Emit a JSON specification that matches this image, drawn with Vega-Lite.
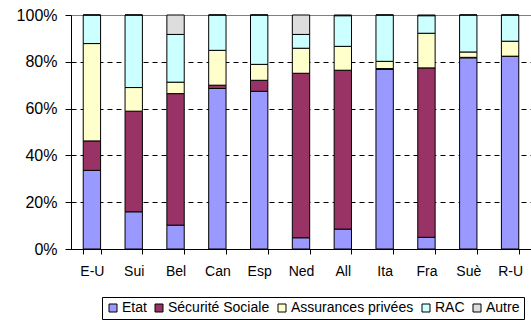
{
  "$schema": "https://vega.github.io/schema/vega-lite/v6.json",
  "width": 460,
  "height": 234,
  "autosize": {"type": "none"},
  "padding": {"left": 71, "top": 15, "right": 0, "bottom": 71},
  "background": "white",
  "config": {"font": "Liberation Sans", "view": {"stroke": "#808080", "strokeWidth": 1}},
  "data": {"values": [
    {"pays": "E-U", "cat": "Etat", "v": 33.6}, {"pays": "E-U", "cat": "Sécurité Sociale", "v": 12.6}, {"pays": "E-U", "cat": "Assurances privées", "v": 41.6}, {"pays": "E-U", "cat": "RAC", "v": 12.2}, {"pays": "E-U", "cat": "Autre", "v": 0},
    {"pays": "Sui", "cat": "Etat", "v": 15.9}, {"pays": "Sui", "cat": "Sécurité Sociale", "v": 43.0}, {"pays": "Sui", "cat": "Assurances privées", "v": 10.1}, {"pays": "Sui", "cat": "RAC", "v": 31.0}, {"pays": "Sui", "cat": "Autre", "v": 0},
    {"pays": "Bel", "cat": "Etat", "v": 10.2}, {"pays": "Bel", "cat": "Sécurité Sociale", "v": 56.2}, {"pays": "Bel", "cat": "Assurances privées", "v": 4.9}, {"pays": "Bel", "cat": "RAC", "v": 20.4}, {"pays": "Bel", "cat": "Autre", "v": 8.3},
    {"pays": "Can", "cat": "Etat", "v": 68.6}, {"pays": "Can", "cat": "Sécurité Sociale", "v": 1.4}, {"pays": "Can", "cat": "Assurances privées", "v": 14.9}, {"pays": "Can", "cat": "RAC", "v": 15.1}, {"pays": "Can", "cat": "Autre", "v": 0},
    {"pays": "Esp", "cat": "Etat", "v": 67.4}, {"pays": "Esp", "cat": "Sécurité Sociale", "v": 4.7}, {"pays": "Esp", "cat": "Assurances privées", "v": 6.8}, {"pays": "Esp", "cat": "RAC", "v": 21.1}, {"pays": "Esp", "cat": "Autre", "v": 0},
    {"pays": "Ned", "cat": "Etat", "v": 4.8}, {"pays": "Ned", "cat": "Sécurité Sociale", "v": 70.3}, {"pays": "Ned", "cat": "Assurances privées", "v": 10.7}, {"pays": "Ned", "cat": "RAC", "v": 5.9}, {"pays": "Ned", "cat": "Autre", "v": 8.3},
    {"pays": "All", "cat": "Etat", "v": 8.5}, {"pays": "All", "cat": "Sécurité Sociale", "v": 67.9}, {"pays": "All", "cat": "Assurances privées", "v": 10.2}, {"pays": "All", "cat": "RAC", "v": 13.1}, {"pays": "All", "cat": "Autre", "v": 0.3},
    {"pays": "Ita", "cat": "Etat", "v": 76.8}, {"pays": "Ita", "cat": "Sécurité Sociale", "v": 0.3}, {"pays": "Ita", "cat": "Assurances privées", "v": 3.1}, {"pays": "Ita", "cat": "RAC", "v": 19.8}, {"pays": "Ita", "cat": "Autre", "v": 0},
    {"pays": "Fra", "cat": "Etat", "v": 5.0}, {"pays": "Fra", "cat": "Sécurité Sociale", "v": 72.4}, {"pays": "Fra", "cat": "Assurances privées", "v": 14.8}, {"pays": "Fra", "cat": "RAC", "v": 7.5}, {"pays": "Fra", "cat": "Autre", "v": 0.3},
    {"pays": "Suè", "cat": "Etat", "v": 81.7}, {"pays": "Suè", "cat": "Sécurité Sociale", "v": 0.2}, {"pays": "Suè", "cat": "Assurances privées", "v": 2.3}, {"pays": "Suè", "cat": "RAC", "v": 15.8}, {"pays": "Suè", "cat": "Autre", "v": 0},
    {"pays": "R-U", "cat": "Etat", "v": 82.4}, {"pays": "R-U", "cat": "Sécurité Sociale", "v": 0}, {"pays": "R-U", "cat": "Assurances privées", "v": 6.4}, {"pays": "R-U", "cat": "RAC", "v": 11.2}, {"pays": "R-U", "cat": "Autre", "v": 0}
  ]},
  "transform": [
    {"calculate": "indexof(['Etat', 'Sécurité Sociale', 'Assurances privées', 'RAC', 'Autre'], datum.cat)", "as": "rang"}
  ],
  "mark": {"type": "bar", "stroke": "black", "strokeWidth": 1},
  "encoding": {
    "x": {
      "field": "pays", "type": "nominal",
      "sort": ["E-U", "Sui", "Bel", "Can", "Esp", "Ned", "All", "Ita", "Fra", "Suè", "R-U"],
      "scale": {"paddingInner": 0.585, "paddingOuter": 0.2925},
      "axis": {"title": null, "labelAngle": 0, "tickBand": "extent", "domainColor": "black", "tickColor": "black", "tickSize": 5, "labelPadding": 10, "labelFontSize": 14, "labelColor": "black", "labelFont": "Liberation Sans"}
    },
    "y": {
      "field": "v", "type": "quantitative", "stack": "normalize",
      "scale": {"domain": [0, 1]},
      "axis": {"title": null, "format": ".0%", "values": [0, 0.2, 0.4, 0.6, 0.8, 1], "grid": true, "gridColor": "black", "gridDash": [5, 4],
        "gridOpacity": {"condition": {"test": "datum.value >= 1", "value": 0}, "value": 1},
        "domainColor": "black", "tickColor": "black", "tickSize": 6, "labelPadding": 8, "labelFontSize": 16, "labelColor": "black", "labelFont": "Liberation Sans"}
    },
    "order": {"field": "rang", "type": "quantitative"},
    "color": {
      "field": "cat", "type": "nominal",
      "sort": ["Etat", "Sécurité Sociale", "Assurances privées", "RAC", "Autre"],
      "scale": {"domain": ["Etat", "Sécurité Sociale", "Assurances privées", "RAC", "Autre"], "range": ["#9999FF", "#993366", "#FFFFCC", "#CCFFFF", "#DDDDDD"]},
      "legend": {"title": null, "orient": "none", "legendX": 31, "legendY": 282, "direction": "horizontal", "symbolType": "square", "symbolSize": 64, "symbolStrokeColor": "black", "symbolStrokeWidth": 1, "symbolOpacity": 1, "labelFontSize": 14, "labelColor": "black", "labelFont": "Liberation Sans", "labelOffset": 2, "columnPadding": 5, "padding": 4, "strokeColor": "black", "fillColor": "white"}
    }
  }
}
